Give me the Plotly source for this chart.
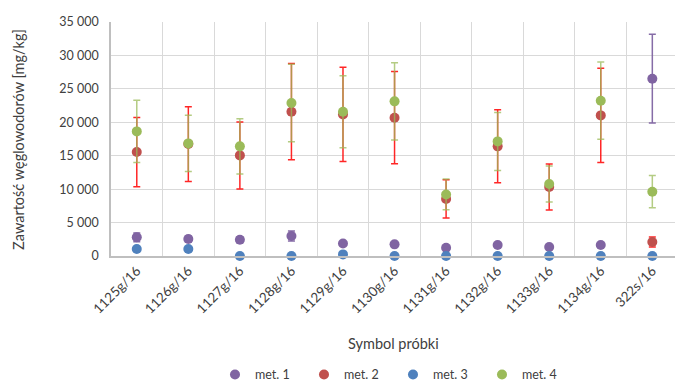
import plotly.graph_objects as go

samples = ["1125g/16", "1126g/16", "1127g/16", "1128g/16", "1129g/16", "1130g/16",
           "1131g/16", "1132g/16", "1133g/16", "1134g/16", "322s/16"]
met1 = [2800, 2540, 2440, 2990, 1880, 1740, 1240, 1640, 1350, 1640, 26520]
met1_err = [650, 450, 450, 750, 250, 200, 150, 200, 150, 200, 6630]
met2 = [15550, 16750, 15050, 21580, 21180, 20690, 8530, 16400, 10320, 21030, 2090]
met2_err = [5180, 5590, 5010, 7200, 7050, 6900, 2860, 5460, 3440, 7060, 750]
met3 = [1050, 1050, 0, 0, 240, 0, 0, 0, 0, 0, 0]
met4 = [18640, 16840, 16400, 22880, 21580, 23130, 9210, 17140, 10770, 23230, 9620]
met4_err = [4670, 4210, 4120, 5800, 5390, 5780, 2300, 4340, 2690, 5780, 2420]

FONT = "Lato"

series = [
    ("met. 1", met1, met1_err, "#8064A2", "rgba(128,100,162,0.95)"),
    ("met. 2", met2, met2_err, "#C0504D", "rgba(255,0,0,0.85)"),
    ("met. 3", met3, None, "#4F81BD", None),
    ("met. 4", met4, met4_err, "#9BBB59", "rgba(155,187,89,0.75)"),
]

fig = go.Figure()
for name, vals, err, col, ecol in series:
    kw = {}
    if err is not None:
        kw["error_y"] = dict(type="data", array=err, visible=True, color=ecol,
                             thickness=1.5, width=3.5)
    fig.add_trace(go.Scatter(
        x=samples, y=vals, name=name, mode="markers",
        marker=dict(color=col, size=10, line=dict(width=0)),
        cliponaxis=False, **kw))

fig.update_layout(
    width=675, height=381,
    margin=dict(l=111, r=0, t=22, b=125, autoexpand=False),
    paper_bgcolor="white", plot_bgcolor="white",
    separators=", ",
    font=dict(family=FONT, size=12, color="#404040"),
    showlegend=True,
    legend=dict(orientation="h", x=0.5, xanchor="center", y=-0.508, yanchor="middle",
                font=dict(family=FONT, size=12.5, color="#404040"),
                itemwidth=30, entrywidth=44, tracegroupgap=0),
    xaxis=dict(type="category", range=[-0.5, 10.44], tickson="boundaries",
               showgrid=True, gridcolor="#D9D9D9", gridwidth=1,
               showline=True, linecolor="#BFBFBF", linewidth=1.5,
               ticks="", tickangle=-45, automargin=False,
               tickfont=dict(family=FONT, size=13.5, color="#404040"),
               zeroline=False),
    yaxis=dict(range=[0, 35000], dtick=5000, tickformat=",d",
               showgrid=True, gridcolor="#D9D9D9", gridwidth=1,
               showline=True, linecolor="#BFBFBF", linewidth=1.5,
               ticks="", ticklabelstandoff=8, automargin=False,
               tickfont=dict(family=FONT, size=12.5, color="#404040"),
               zeroline=False),
    annotations=[
        dict(text="Symbol próbki", xref="paper", yref="paper", x=0.5, y=-0.372,
             xanchor="center", yanchor="middle", showarrow=False,
             font=dict(family=FONT, size=14.5, color="#404040")),
        dict(text="Zawartość węglowodorów [mg/kg]", xref="paper", yref="paper",
             x=-0.165, y=0.5, xanchor="center", yanchor="middle", textangle=-90,
             showarrow=False, font=dict(family=FONT, size=14.5, color="#404040")),
    ],
)

fig.write_html("out.html")
